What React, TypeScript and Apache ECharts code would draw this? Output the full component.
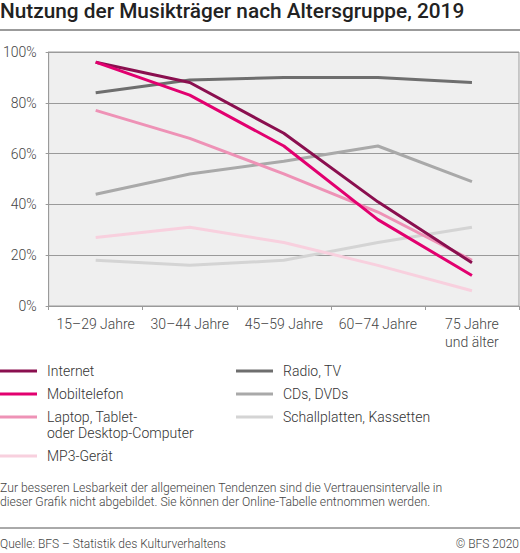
import React, { useEffect, useRef } from "react";
import * as echarts from "echarts";

const title = "Nutzung der Musikträger nach Altersgruppe, 2019";
const categories = ["15–29 Jahre", "30–44 Jahre", "45–59 Jahre", "60–74 Jahre", "75 Jahre\nund älter"];
const yTicks = [0, 20, 40, 60, 80, 100];

const internet = [96, 88, 68, 41, 17];
const mobiltelefon = [96, 83, 63, 34, 12];
const laptop = [77, 66, 52, 37, 18];
const mp3 = [27, 31, 25, 16, 6];
const radioTv = [84, 89, 90, 90, 88];
const cdsDvds = [44, 52, 57, 63, 49];
const schallplatten = [18, 16, 18, 25, 31];

const seriesNames = [
  "Internet",
  "Mobiltelefon",
  "Laptop, Tablet-\noder Desktop-Computer",
  "MP3-Gerät",
  "Radio, TV",
  "CDs, DVDs",
  "Schallplatten, Kassetten",
];
const seriesData = [internet, mobiltelefon, laptop, mp3, radioTv, cdsDvds, schallplatten];
const seriesColors = ["#8a0f4f", "#e2006f", "#ee92b6", "#f8d0de", "#6e6e6e", "#a9a9a9", "#d4d4d4"];
const drawOrder = [6, 5, 4, 3, 2, 0, 1];

const note = "Zur besseren Lesbarkeit der allgemeinen Tendenzen sind die Vertrauensintervalle in\ndieser Grafik nicht abgebildet. Sie können der Online-Tabelle entnommen werden.";
const source = "Quelle: BFS – Statistik des Kulturverhaltens";
const copyright = "© BFS 2020";

const FONT = "Roboto, 'Noto Sans', sans-serif";

export default function App() {
  const ref = useRef<HTMLDivElement>(null);
  useEffect(() => {
    document.body.style.margin = "0";
    const chart = echarts.init(ref.current!, null, { renderer: "svg" });

    const legendPos = [
      { x: 0, y: 371 },
      { x: 0, y: 394 },
      { x: 0, y: 417 },
      { x: 0, y: 456 },
      { x: 236, y: 371 },
      { x: 236, y: 394 },
      { x: 236, y: 417 },
    ];
    const legendGraphics: any[] = [];
    seriesNames.forEach((name, i) => {
      const p = legendPos[i];
      legendGraphics.push({
        type: "line",
        shape: { x1: p.x, y1: p.y, x2: p.x + 37, y2: p.y },
        style: { stroke: seriesColors[i], lineWidth: 3 },
      });
      legendGraphics.push({
        type: "text",
        x: p.x + 47,
        y: p.y - 8,
        style: {
          text: name,
          fill: "#333",
          font: `300 14px ${FONT}`,
          lineHeight: 16,
          textVerticalAlign: "top",
        },
      });
    });

    chart.setOption({
      animation: false,
      textStyle: { fontFamily: FONT },
      grid: {
        left: 46,
        right: 1,
        top: 52,
        bottom: 247,
        show: true,
        backgroundColor: "#efefef",
        borderColor: "#9a9a9a",
        borderWidth: 1,
      },
      xAxis: {
        type: "category",
        data: categories,
        boundaryGap: true,
        axisLine: { show: true, lineStyle: { color: "#9a9a9a", width: 1 } },
        axisTick: { show: true, length: 4, interval: 0, lineStyle: { color: "#9a9a9a" } },
        axisLabel: {
          interval: 0,
          margin: 9,
          color: "#444",
          fontSize: 14,
          fontWeight: 300,
          lineHeight: 18,
          fontFamily: FONT,
        },
      },
      yAxis: {
        type: "value",
        min: 0,
        max: 100,
        interval: 20,
        axisLine: { show: true, lineStyle: { color: "#9a9a9a" } },
        axisTick: { show: true, length: 3, lineStyle: { color: "#9a9a9a" } },
        splitLine: { show: true, lineStyle: { color: "#9a9a9a", width: 1 } },
        axisLabel: {
          formatter: (v: number) => (yTicks.includes(v) ? `${v}%` : ""),
          margin: 12,
          color: "#444",
          fontSize: 14,
          fontWeight: 300,
          fontFamily: FONT,
        },
      },
      series: drawOrder.map((i) => ({
        type: "line",
        name: seriesNames[i],
        data: seriesData[i],
        symbol: "none",
        lineStyle: { color: seriesColors[i], width: 3 },
        itemStyle: { color: seriesColors[i] },
      })),
      graphic: [
        {
          type: "text",
          x: 0,
          y: 0,
          style: {
            text: title,
            fill: "#222",
            font: `500 20.8px ${FONT}`,
            textVerticalAlign: "top",
          },
        },
        {
          type: "line",
          shape: { x1: 0, y1: 30, x2: 520, y2: 30 },
          style: { stroke: "#7a7a7a", lineWidth: 1.5 },
        },
        ...legendGraphics,
        {
          type: "text",
          x: 0,
          y: 481,
          style: {
            text: note,
            fill: "#444",
            font: `300 12.2px ${FONT}`,
            lineHeight: 14,
            textVerticalAlign: "top",
          },
        },
        {
          type: "line",
          shape: { x1: 0, y1: 528, x2: 520, y2: 528 },
          style: { stroke: "#555", lineWidth: 1 },
        },
        {
          type: "text",
          x: 0,
          y: 538,
          style: {
            text: source,
            fill: "#444",
            font: `300 12px ${FONT}`,
            textVerticalAlign: "top",
          },
        },
        {
          type: "text",
          x: 519,
          y: 538,
          style: {
            text: copyright,
            fill: "#444",
            font: `300 12px ${FONT}`,
            textAlign: "right",
            textVerticalAlign: "top",
          },
        },
      ],
    });
    return () => chart.dispose();
  }, []);
  return <div ref={ref} style={{ width: 520, height: 553 }} />;
}
